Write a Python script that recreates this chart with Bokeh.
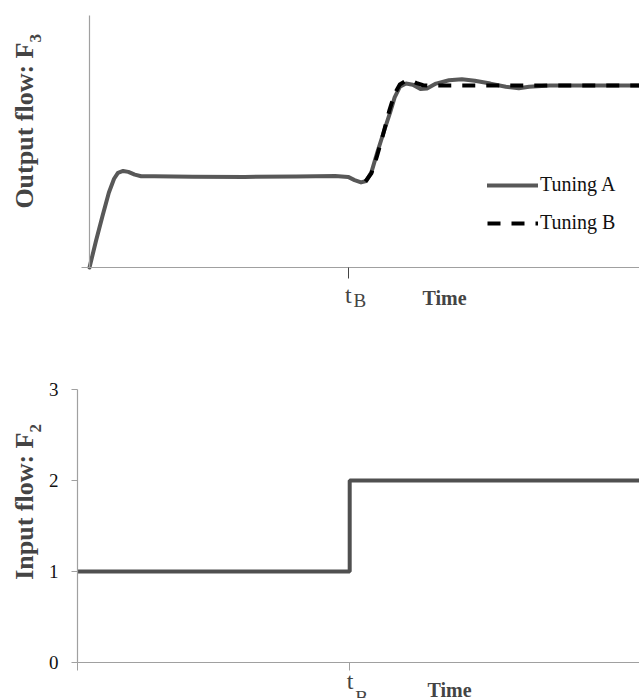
import math
from bokeh.plotting import figure
from bokeh.models import Range1d, FixedTicker, Label, Legend, LegendItem
from bokeh.layouts import column
from bokeh.embed import file_html
from bokeh.resources import INLINE

# ---------------- data ----------------
t_B = 10
time_a = [0, 0.25, 0.5, 0.75, 0.95, 1.1, 1.3, 1.5, 1.75, 2.0, 2.5, 4, 6, 8, 9.5,
          10.0, 10.25, 10.5, 10.7, 10.9, 11.13, 11.4, 11.62, 11.8, 12.0, 12.24,
          12.5, 12.8, 13.05, 13.4, 13.9, 14.4, 14.9, 15.5, 16.1, 16.6, 17.0, 17.8, 21.3]
flow_a = [0, 0.29, 0.56, 0.82, 0.97, 1.035, 1.055, 1.045, 1.015, 0.997, 0.997, 0.993,
          0.99, 0.995, 1.0, 0.99, 0.955, 0.93, 0.945, 1.04, 1.26, 1.5, 1.69, 1.86,
          1.975, 2.01, 1.997, 1.95, 1.955, 2.01, 2.047, 2.058, 2.04, 2.01, 1.975,
          1.96, 1.975, 1.989, 1.989]
time_b = [10.67, 10.9, 11.1, 11.35, 11.6, 11.8, 12.0, 12.2, 12.42, 12.65, 12.9, 13.2, 21.3]
flow_b = [0.94, 1.03, 1.2, 1.45, 1.72, 1.9, 2.0, 2.035, 2.045, 2.015, 1.992, 1.989, 1.989]
time_in = [0, t_B, 20.65]
flow_in = [1, 2, 2]
in_ticks = [0, 1, 2, 3]
series_names = ["Tuning A", "Tuning B"]

SERIF = "Liberation Serif"
AXIS = "#a0a0a0"
GRAY_A = "#585858"

# ---------------- layout constants (pixels) ----------------
W = 639
TOP_H, BOT_H = 330, 368
T_X0, T_Y0 = 89, 267
T_PX_X = (347.6 - 89) / t_B
T_PX_Y = 91.5
T_XMAX, T_YMAX = 21.27, 2.754
B_X0, B_Y0 = 77, 662 - TOP_H
B_PX_X = (349.2 - 77) / t_B
B_PX_Y = 91.0
B_XMAX, B_YMAX = 20.65, 3


def style_axes(p, xmax, ymax):
    p.xgrid.visible = False
    p.ygrid.visible = False
    p.outline_line_color = None
    p.xaxis.fixed_location = 0
    p.yaxis.fixed_location = 0
    p.xaxis.bounds = (0, xmax)
    p.yaxis.bounds = (0, ymax)
    for ax in (p.xaxis[0], p.yaxis[0]):
        ax.axis_line_color = AXIS
        ax.axis_line_width = 1.2
        ax.major_tick_line_color = AXIS
        ax.major_tick_in = 0
        ax.minor_tick_line_color = None
        ax.major_label_text_font = SERIF
        ax.major_label_text_color = "#111111"


def make_fig(h, x0, y0, pxx, pxy):
    return figure(width=W, height=h,
                  x_range=Range1d(-x0 / pxx, (W - x0) / pxx),
                  y_range=Range1d(-(h - y0) / pxy, y0 / pxy),
                  output_backend="svg", toolbar_location=None, min_border=0)


def ytitle(p, h, main, sub, end_y):
    p.add_layout(Label(x=24, y=h - end_y + 13, x_units="screen", y_units="screen",
                       angle=math.pi / 2, text=main, text_font=SERIF, text_font_style="bold",
                       text_font_size="26px", text_align="right", text_baseline="middle"))
    p.add_layout(Label(x=35, y=h - end_y + 13, x_units="screen", y_units="screen",
                       angle=math.pi / 2, text=sub, text_font=SERIF, text_font_style="bold",
                       text_font_size="17px", text_align="left", text_baseline="middle"))


def xlabels(p, h, t_base, b_base, time_x, time_base):
    p.add_layout(Label(x=t_B, y=h - t_base + 8, x_units="data", y_units="screen", x_offset=-3,
                       text="t", text_font=SERIF, text_font_size="24px",
                       text_align="left", text_baseline="alphabetic"))
    p.add_layout(Label(x=t_B, y=h - b_base + 8, x_units="data", y_units="screen", x_offset=5.5,
                       text="B", text_font=SERIF, text_font_size="19px",
                       text_align="left", text_baseline="alphabetic"))
    p.add_layout(Label(x=time_x, y=h - time_base + 8, x_units="screen", y_units="screen",
                       text="Time", text_font=SERIF, text_font_style="bold",
                       text_font_size="20px", text_align="left", text_baseline="alphabetic"))


# ---------------- top chart ----------------
top = make_fig(TOP_H, T_X0, T_Y0, T_PX_X, T_PX_Y)
style_axes(top, T_XMAX, T_YMAX)
top.xaxis.ticker = FixedTicker(ticks=[t_B])
top.xaxis.major_label_overrides = {t_B: ""}
top.xaxis.major_label_text_font_size = "1px"
top.xaxis.major_tick_out = 11
top.xaxis.major_tick_line_color = "#444444"
top.yaxis.ticker = FixedTicker(ticks=[0])
top.yaxis.major_label_overrides = {0: ""}
top.yaxis.major_label_text_font_size = "1px"
top.yaxis.major_tick_out = 8

ra = top.line(time_a, flow_a, line_color=GRAY_A, line_width=4, line_join="round", line_cap="round")
rb = top.line(time_b, flow_b, line_color="black", line_width=4, line_dash="13 11", line_join="round")

legend = Legend(items=[LegendItem(label=series_names[0], renderers=[ra]),
                       LegendItem(label=series_names[1], renderers=[rb])],
                location=(487, TOP_H - 234), glyph_width=51, glyph_height=20, label_height=20,
                spacing=15, padding=0, margin=0, border_line_color=None,
                background_fill_alpha=0, label_text_font=SERIF,
                label_text_font_size="20px", label_standoff=2, label_text_color="#111111")
top.add_layout(legend)

ytitle(top, TOP_H, "Output flow: F", "3", 55)
xlabels(top, TOP_H, 302, 308, 422, 305)

# ---------------- bottom chart ----------------
bot = make_fig(BOT_H, B_X0, B_Y0, B_PX_X, B_PX_Y)
style_axes(bot, B_XMAX, B_YMAX)
bot.xaxis.ticker = FixedTicker(ticks=[0, t_B])
bot.xaxis.major_label_overrides = {0: "", t_B: ""}
bot.xaxis.major_label_text_font_size = "1px"
bot.xaxis.major_tick_out = 8
bot.yaxis.ticker = FixedTicker(ticks=in_ticks)
bot.yaxis.major_tick_out = 6
bot.yaxis.major_label_standoff = 13
bot.yaxis.major_label_text_font_size = "19px"

bot.step(time_in, flow_in, mode="after", line_color="#505050", line_width=4)

ytitle(bot, BOT_H, "Input flow: F", "2", 445 - TOP_H)
xlabels(bot, BOT_H, 688 - TOP_H, 705 - TOP_H, 427, 697 - TOP_H)

layout = column(top, bot, spacing=0)
open("out.html", "w").write(file_html(layout, INLINE))
